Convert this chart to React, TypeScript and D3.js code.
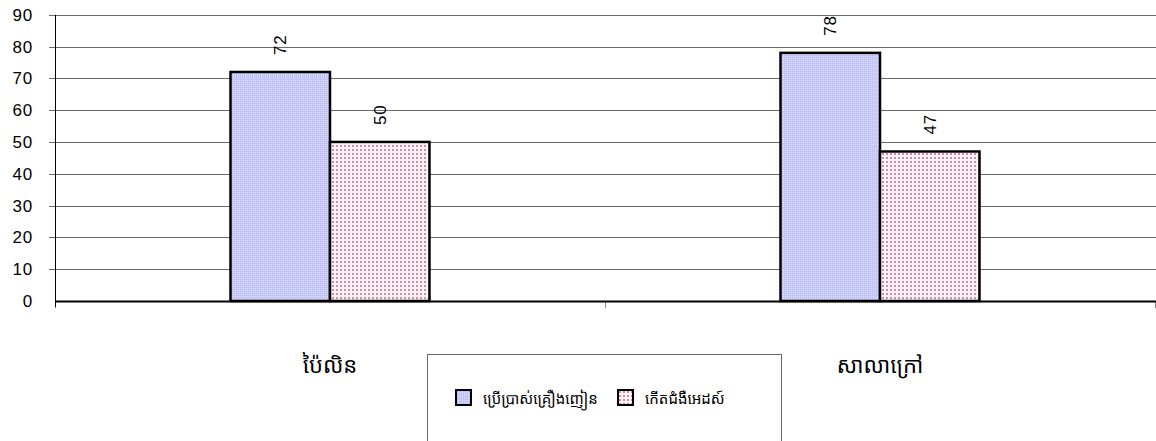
import React, { useEffect, useRef } from 'react';
import * as d3 from 'd3';

const categories = ['ប៉ៃលិន', 'សាលាក្រៅ'];
const seriesNames = ['ប្រើប្រាស់គ្រឿងញៀន', 'កើតជំងឺអេដស៍'];
const seriesA = [72, 78];
const seriesB = [50, 47];
const yTicks = [0, 10, 20, 30, 40, 50, 60, 70, 80, 90];

const KHMER = '"Khmer OS", "Noto Sans Khmer", "Khmer OS System", "Noto Sans", sans-serif';
const ARIAL = '"Liberation Sans", Arial, sans-serif';

function App() {
  const ref = useRef<SVGSVGElement>(null);

  useEffect(() => {
    const svg = d3.select(ref.current);
    svg.selectAll('*').remove();

    const width = 1156;
    const left = 55, right = 1155, top = 14.7, bottom = 301;

    const x = d3.scaleBand().domain(categories).range([left, right]).padding(0);
    const x1 = d3.scaleBand().domain(seriesNames).range([0, x.bandwidth()])
      .paddingInner(0).paddingOuter(1.764);
    const y = d3.scaleLinear().domain([0, 90]).range([bottom, top]);
    const colors = ['url(#pat-blue)', 'url(#pat-pink)'];

    // fill patterns
    const defs = svg.append('defs');
    const pb = defs.append('pattern').attr('id', 'pat-blue')
      .attr('patternUnits', 'userSpaceOnUse').attr('width', 4).attr('height', 4);
    pb.append('rect').attr('width', 4).attr('height', 4).attr('fill', '#c2c2fb');
    pb.append('rect').attr('x', 0).attr('y', 0).attr('width', 1).attr('height', 1).attr('fill', '#f0f0ff');
    pb.append('rect').attr('x', 2).attr('y', 2).attr('width', 1).attr('height', 1).attr('fill', '#f0f0ff');
    pb.append('rect').attr('x', 2).attr('y', 0).attr('width', 1).attr('height', 1).attr('fill', '#d8d8ff');
    pb.append('rect').attr('x', 0).attr('y', 2).attr('width', 1).attr('height', 1).attr('fill', '#d8d8ff');

    const pp = defs.append('pattern').attr('id', 'pat-pink')
      .attr('patternUnits', 'userSpaceOnUse').attr('width', 4).attr('height', 4);
    pp.append('rect').attr('width', 4).attr('height', 4).attr('fill', '#fbf2f6');
    pp.append('rect').attr('x', 1).attr('y', 1).attr('width', 2).attr('height', 2).attr('fill', '#d7a0b8');
    pp.append('rect').attr('x', 1.5).attr('y', 1.5).attr('width', 1).attr('height', 1).attr('fill', '#b94d7a');

    // gridlines
    svg.append('g')
      .selectAll('line')
      .data(yTicks.filter(d => d > 0))
      .join('line')
      .attr('x1', left - 6).attr('x2', width)
      .attr('y1', d => Math.round(y(d)) + 0.5).attr('y2', d => Math.round(y(d)) + 0.5)
      .attr('stroke', '#6a6a6a').attr('stroke-width', 1);

    // y tick labels
    svg.append('g')
      .selectAll('text')
      .data(yTicks)
      .join('text')
      .attr('x', 33).attr('y', d => y(d))
      .attr('dy', '0.36em')
      .attr('text-anchor', 'end')
      .attr('font-family', ARIAL)
      .attr('font-size', 17)
      .attr('letter-spacing', 0.8)
      .attr('fill', '#000')
      .text(d => d);

    // category tick marks
    svg.append('g')
      .selectAll('line')
      .data([left, left + x.bandwidth(), right])
      .join('line')
      .attr('x1', d => d + 0.5).attr('x2', d => d + 0.5)
      .attr('y1', bottom).attr('y2', bottom + 7)
      .attr('stroke', '#888');

    // bars
    const groups = svg.append('g')
      .selectAll('g')
      .data(categories)
      .join('g')
      .attr('transform', d => `translate(${x(d)},0)`);

    const rows = (i: number) => seriesNames.map((s, j) => ({
      s, j, v: j === 0 ? seriesA[i] : seriesB[i]
    }));

    groups.selectAll('rect')
      .data((d, i) => rows(i))
      .join('rect')
      .attr('x', d => x1(d.s)!)
      .attr('y', d => y(d.v))
      .attr('width', x1.bandwidth())
      .attr('height', d => bottom - y(d.v))
      .attr('fill', d => colors[d.j])
      .attr('stroke', '#000')
      .attr('stroke-width', 2.5);

    groups.selectAll('text')
      .data((d, i) => rows(i))
      .join('text')
      .attr('transform', d => `translate(${x1(d.s)! + x1.bandwidth() / 2},${y(d.v) - 17}) rotate(-90)`)
      .attr('dy', '0.36em')
      .attr('text-anchor', 'start')
      .attr('font-family', ARIAL)
      .attr('font-size', 17)
      .attr('letter-spacing', 0.8)
      .attr('fill', '#000')
      .text(d => d.v);

    // axes
    svg.append('line')
      .attr('x1', left + 0.5).attr('x2', left + 0.5)
      .attr('y1', top).attr('y2', bottom + 6)
      .attr('stroke', '#000');
    svg.append('line')
      .attr('x1', left).attr('x2', width)
      .attr('y1', bottom + 0.5).attr('y2', bottom + 0.5)
      .attr('stroke', '#000').attr('stroke-width', 2);

    // category labels
    svg.append('g')
      .selectAll('text')
      .data(categories)
      .join('text')
      .attr('x', d => x(d)! + x.bandwidth() / 2)
      .attr('y', 373)
      .attr('text-anchor', 'middle')
      .attr('font-family', KHMER)
      .attr('font-size', 22)
      .attr('fill', '#000')
      .text(d => d);

    // legend
    svg.append('rect')
      .attr('x', 427.5).attr('y', 354.5)
      .attr('width', 354).attr('height', 100)
      .attr('fill', '#fff').attr('stroke', '#666');

    const legendX = [456, 618];
    const items = svg.append('g')
      .selectAll('g')
      .data(seriesNames)
      .join('g')
      .attr('transform', (d, i) => `translate(${legendX[i]},390)`);
    items.append('rect')
      .attr('width', 15).attr('height', 15)
      .attr('fill', (d, i) => colors[i])
      .attr('stroke', '#000').attr('stroke-width', 2);
    items.append('text')
      .attr('x', 27).attr('y', 14)
      .attr('font-family', KHMER)
      .attr('font-size', 15)
      .attr('fill', '#000')
      .text(d => d);
  }, []);

  return (
    <svg ref={ref} width={1156} height={441}
      style={{ position: 'absolute', left: 0, top: 0, background: '#fff' }} />
  );
}

export default App;
